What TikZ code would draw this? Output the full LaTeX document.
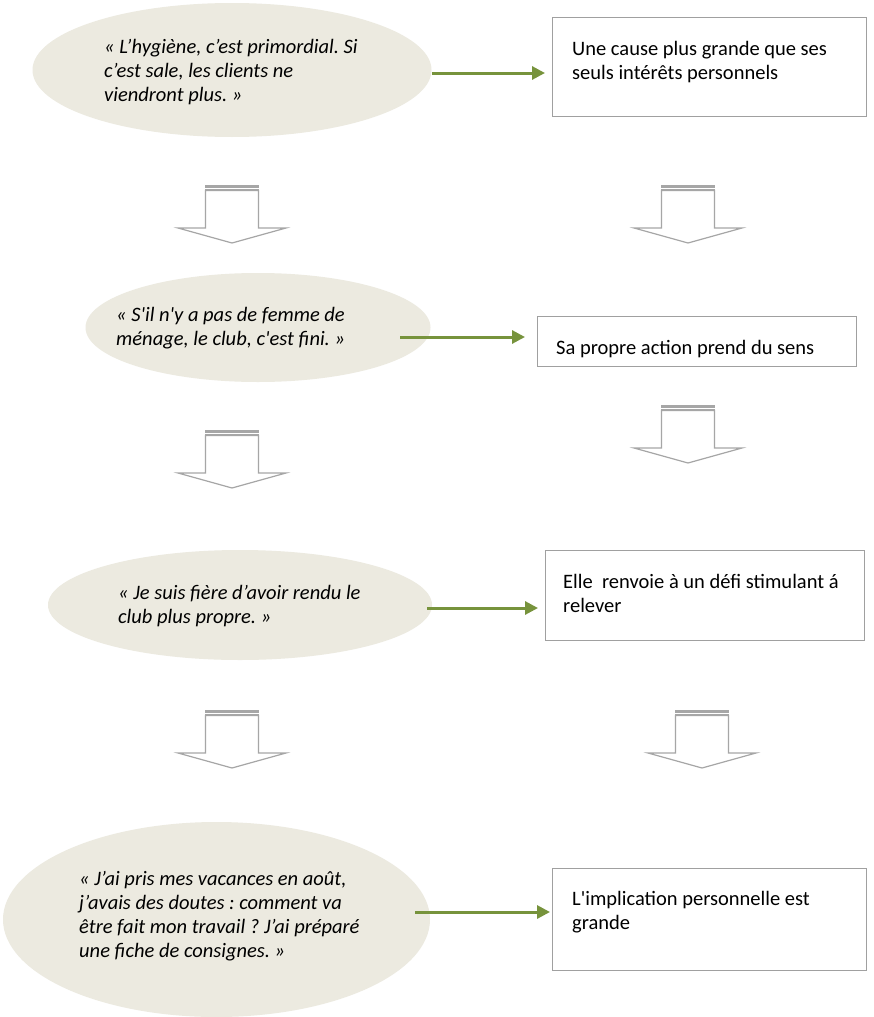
\documentclass[tikz,border=0pt]{standalone}
\usepackage{fontspec}
\newfontfamily\cf{Carlito}
\usetikzlibrary{arrows.meta,shapes.geometric}
\definecolor{ellfill}{RGB}{236,234,224}
\definecolor{garr}{RGB}{119,147,60}
\definecolor{boxline}{RGB}{160,160,160}
\definecolor{blkline}{RGB}{166,166,166}
\frenchspacing
\newcommand\blockdown[2]{%
  \filldraw[fill=white,draw=blkline,line width=1.2pt,line join=miter]
    (#1-26.5,#2+5.5) -- (#1-26.5,#2+43) -- (#1-54,#2+43) -- (#1,#2+58)
    -- (#1+54,#2+43) -- (#1+26.5,#2+43) -- (#1+26.5,#2+5.5) -- cycle;
  \fill[blkline] (#1-27.1,#2) rectangle (#1+27.1,#2+2.5);
  \fill[blkline] (#1-27.1,#2+4) rectangle (#1+27.1,#2+5.8);
}
\begin{document}
\begin{tikzpicture}[x=1pt,y=-1pt,
  quote/.style={ellipse, fill=ellfill, draw=none, inner sep=0pt},
  stmt/.style={rectangle, draw=boxline, line width=1.2pt, fill=white, inner sep=0pt, anchor=north west},
  qtext/.style={anchor=base west, inner sep=0pt, font=\cf\fontsize{20.5}{24}\selectfont\itshape\frenchspacing},
  stext/.style={anchor=base west, inner sep=0pt, font=\cf\fontsize{20.5}{24}\selectfont\frenchspacing},
  garrow/.style={draw=garr, line width=3pt, -{Triangle[length=13pt,width=13pt]}}]
\useasboundingbox[fill=white] (0,0) rectangle (873,1017);

% quotes (ellipses)
\node[quote, minimum width=399pt, minimum height=134pt] (e1) at (232,70) {};
\node[quote, minimum width=345pt, minimum height=109pt] (e2) at (258,327.5) {};
\node[quote, minimum width=384pt, minimum height=110pt] (e3) at (240,605) {};
\node[quote, minimum width=427pt, minimum height=195pt] (e4) at (216.5,919.5) {};

\node[qtext] (q1) at (104,53) {\begin{tabular}[t]{@{}l@{}}« L’hygiène, c’est primordial. Si\\ c’est sale, les clients ne\\ viendront plus. »\end{tabular}};
\node[qtext] (q2) at (116,321) {\begin{tabular}[t]{@{}l@{}}« S'il n'y a pas de femme de\\ ménage, le club, c'est fini. »\end{tabular}};
\node[qtext] (q3) at (118,599) {\begin{tabular}[t]{@{}l@{}}« Je suis fière d’avoir rendu le\\ club plus propre. »\end{tabular}};
\node[qtext] (q4) at (79,885) {\begin{tabular}[t]{@{}l@{}}« J’ai pris mes vacances en août,\\ j’avais des doutes : comment va\\ être fait mon travail ? J’ai préparé\\ une fiche de consignes. »\end{tabular}};

% statements (boxes)
\node[stmt, minimum width=314pt, minimum height=99pt] (b1) at (552,17) {};
\node[stmt, minimum width=319pt, minimum height=50pt] (b2) at (537,316) {};
\node[stmt, minimum width=319pt, minimum height=90pt] (b3) at (545,550) {};
\node[stmt, minimum width=314pt, minimum height=102pt] (b4) at (552,868) {};

\node[stext] (s1) at (572,55) {\begin{tabular}[t]{@{}l@{}}Une cause plus grande que ses\\ seuls intérêts personnels\end{tabular}};
\node[stext] (s2) at (556,354) {Sa propre action prend du sens};
\node[stext] (s3) at (563,588) {\begin{tabular}[t]{@{}l@{}}Elle~ renvoie à un défi stimulant á\\ relever\end{tabular}};
\node[stext] (s4) at (572,905) {\begin{tabular}[t]{@{}l@{}}L'implication personnelle est\\ grande\end{tabular}};

% green connectors
\coordinate (g1) at (432,73);
\coordinate (g2) at (400,337);
\coordinate (g3) at (427,608);
\coordinate (g4) at (415,912);
\draw[garrow, shorten >=7pt] (g1) -- (g1 -| b1.west);
\draw[garrow, shorten >=12pt] (g2) -- (g2 -| b2.west);
\draw[garrow, shorten >=7pt] (g3) -- (g3 -| b3.west);
\draw[garrow, shorten >=2pt] (g4) -- (g4 -| b4.west);

% block arrows
\blockdown{232}{185}
\blockdown{232}{430}
\blockdown{232}{710}
\blockdown{688}{185}
\blockdown{688}{405}
\blockdown{702}{710}
\end{tikzpicture}
\end{document}
